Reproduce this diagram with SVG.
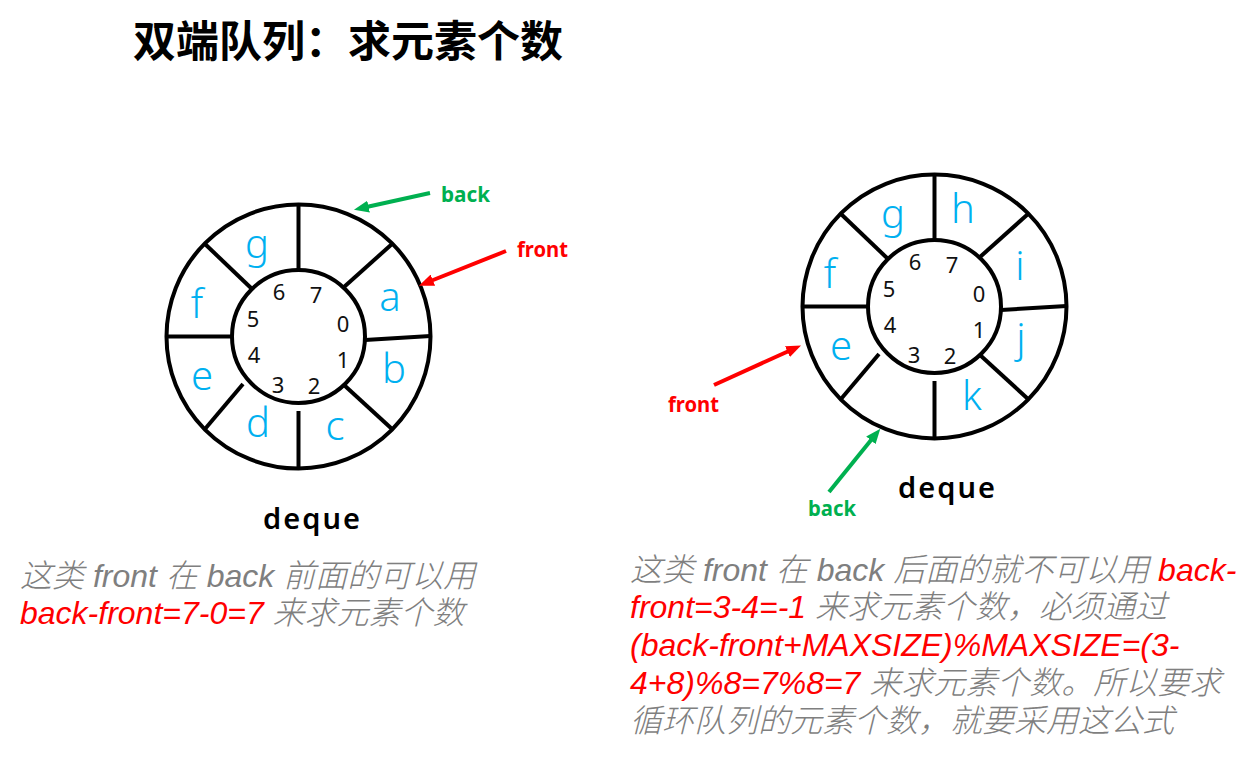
<svg xmlns="http://www.w3.org/2000/svg" width="1255" height="760" viewBox="0 0 1255 760">
<style>
.ring{fill:none;stroke:#000;stroke-width:4}
.slot{font-family:"Noto Sans","Open Sans",sans-serif;font-weight:300;font-size:40px;fill:#00B0F0;text-anchor:middle}
.idx{font-family:"Noto Sans","Open Sans",sans-serif;font-weight:400;font-size:22px;fill:#111;text-anchor:middle}
.title{font-family:"Noto Sans CJK SC",sans-serif;font-weight:700;font-size:43px;fill:#000}
.deque{font-family:"Noto Sans",sans-serif;font-weight:600;font-size:29px;fill:#000}
.ptr{font-family:"Noto Sans",sans-serif;font-weight:700;font-size:21px}
.note{font-family:"Liberation Sans","Noto Sans CJK SC",sans-serif;font-style:italic;font-weight:300;font-size:32px;fill:#7F7F7F}
.red{fill:#FF0000}
.green{fill:#00B050}
.arrow{fill:none;stroke-width:4}
</style>
<defs>
<marker id="ah-red" viewBox="0 0 15 12" markerUnits="userSpaceOnUse" markerWidth="15" markerHeight="12" refX="1" refY="6" orient="auto"><path d="M0,0 L15,6 L0,12 z" fill="#FF0000"/></marker>
<marker id="ah-green" viewBox="0 0 15 12" markerUnits="userSpaceOnUse" markerWidth="15" markerHeight="12" refX="1" refY="6" orient="auto"><path d="M0,0 L15,6 L0,12 z" fill="#00B050"/></marker>
<g id="ring-shape" class="ring">
<circle cx="0" cy="0" r="132"/>
<circle cx="0" cy="0" r="66.5"/>
<line x1="0" y1="-132" x2="0" y2="-66"/>
<line x1="0" y1="74.5" x2="0" y2="132"/>
<line x1="-132" y1="0" x2="-66" y2="0"/>
<line x1="66.5" y1="3.5" x2="132" y2="-0.5"/>
<line x1="45.5" y1="-49.5" x2="93.5" y2="-92.5"/>
<line x1="-93.5" y1="-92.5" x2="-47.5" y2="-48.5"/>
<line x1="45.5" y1="48.5" x2="93.5" y2="92.5"/>
<line x1="-55.5" y1="47.5" x2="-93.5" y2="92.5"/>
</g>
</defs>

<g id="title"><text class="title" x="133" y="57">双端队列：求元素个数</text></g>

<g id="ring-left">
<use href="#ring-shape" transform="translate(298.5,336.5)"/>
<text class="slot" x="390" y="311">a</text>
<text class="slot" x="394" y="383">b</text>
<text class="slot" x="335" y="440">c</text>
<text class="slot" x="258" y="437">d</text>
<text class="slot" x="202" y="390">e</text>
<text class="slot" x="197" y="318">f</text>
<text class="slot" x="257" y="258">g</text>
<text class="idx" x="343" y="332">0</text>
<text class="idx" x="343" y="368">1</text>
<text class="idx" x="314" y="394">2</text>
<text class="idx" x="278" y="393">3</text>
<text class="idx" x="254" y="363">4</text>
<text class="idx" x="253" y="327">5</text>
<text class="idx" x="279" y="300">6</text>
<text class="idx" x="316" y="303">7</text>
</g>
<g id="deque-left"><text class="deque" x="263" y="529" textLength="97" lengthAdjust="spacing">deque</text></g>

<g id="ring-right">
<use href="#ring-shape" transform="translate(934.5,306.5)"/>
<text class="slot" x="841" y="360">e</text>
<text class="slot" x="830" y="288">f</text>
<text class="slot" x="893" y="228">g</text>
<text class="slot" x="963" y="223">h</text>
<text class="slot" x="1020" y="280">i</text>
<text class="slot" x="1021" y="352">j</text>
<text class="slot" x="972" y="410">k</text>
<text class="idx" x="979" y="302">0</text>
<text class="idx" x="979" y="338">1</text>
<text class="idx" x="950" y="364">2</text>
<text class="idx" x="914" y="363">3</text>
<text class="idx" x="890" y="333">4</text>
<text class="idx" x="889" y="297">5</text>
<text class="idx" x="915" y="270">6</text>
<text class="idx" x="952" y="273">7</text>
</g>
<g id="deque-right"><text class="deque" x="898" y="498" textLength="97" lengthAdjust="spacing">deque</text></g>

<g id="connectors">
<line class="arrow" stroke="#00B050" x1="430" y1="193" x2="367.6" y2="206.8" marker-end="url(#ah-green)"/>
<line class="arrow" stroke="#FF0000" x1="506" y1="251" x2="431.9" y2="280.5" marker-end="url(#ah-red)"/>
<line class="arrow" stroke="#FF0000" x1="714" y1="385" x2="788.3" y2="351.2" marker-end="url(#ah-red)"/>
<line class="arrow" stroke="#00B050" x1="829" y1="492" x2="871.5" y2="439.6" marker-end="url(#ah-green)"/>
</g>

<g id="label-back-left"><text class="ptr green" x="441" y="202" textLength="49" lengthAdjust="spacingAndGlyphs">back</text></g>
<g id="label-front-left"><text class="ptr red" x="517" y="257" textLength="51" lengthAdjust="spacingAndGlyphs">front</text></g>
<g id="label-front-right"><text class="ptr red" x="668" y="412" textLength="51" lengthAdjust="spacingAndGlyphs">front</text></g>
<g id="label-back-right"><text class="ptr green" x="808" y="516" textLength="48" lengthAdjust="spacingAndGlyphs">back</text></g>

<g id="note-left">
<text class="note" x="20" y="587">这类 front 在 back 前面的可以用</text>
<text class="note" x="20" y="624"><tspan class="red">back-front=7-0=7</tspan> 来求元素个数</text>
</g>

<g id="note-right">
<text class="note" x="630" y="581">这类 front 在 back 后面的就不可以用 <tspan class="red">back-</tspan></text>
<text class="note" x="630" y="618"><tspan class="red">front=3-4=-1</tspan> 来求元素个数，必须通过</text>
<text class="note" x="630" y="656"><tspan class="red">(back-front+MAXSIZE)%MAXSIZE=(3-</tspan></text>
<text class="note" x="630" y="694"><tspan class="red">4+8)%8=7%8=7</tspan> 来求元素个数。所以要求</text>
<text class="note" x="630" y="732">循环队列的元素个数，就要采用这公式</text>
</g>
</svg>
